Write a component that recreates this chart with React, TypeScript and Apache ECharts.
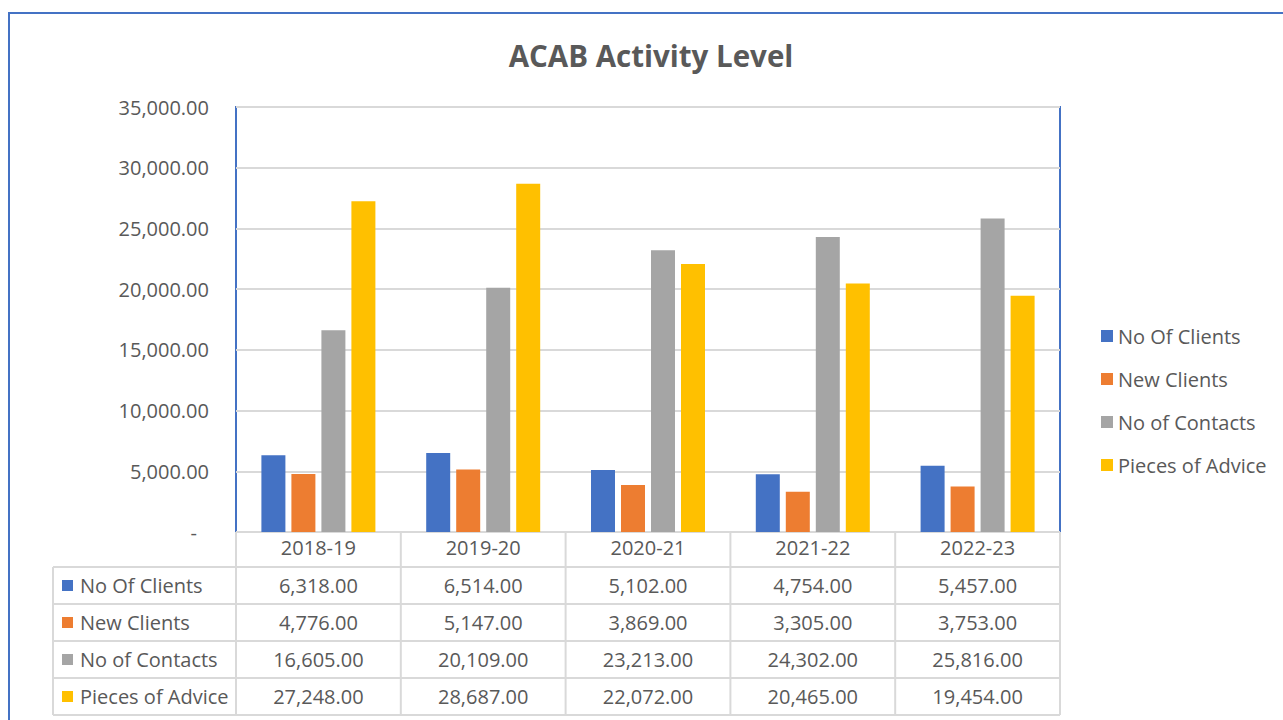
import React, { useEffect, useRef } from "react";
import * as echarts from "echarts";

const categories = ["2018-19", "2019-20", "2020-21", "2021-22", "2022-23"];
const seriesNames = ["No Of Clients", "New Clients", "No of Contacts", "Pieces of Advice"];
const noOfClients = [6318, 6514, 5102, 4754, 5457];
const newClients = [4776, 5147, 3869, 3305, 3753];
const noOfContacts = [16605, 20109, 23213, 24302, 25816];
const piecesOfAdvice = [27248, 28687, 22072, 20465, 19454];
const colors = ["#4472C4", "#ED7D31", "#A5A5A5", "#FFC000"];
const yTicks = { min: 0, max: 35000, interval: 5000 };

const FONT = "Open Sans";
const TXT = "#595959";

const fmt = (v: number) =>
  v.toLocaleString("en-US", { minimumFractionDigits: 2, maximumFractionDigits: 2 });

export default function App() {
  const ref = useRef<HTMLDivElement>(null);
  useEffect(() => {
    if (!ref.current) return;
    const chart = echarts.init(ref.current, null, { renderer: "svg" });
    const allData = [noOfClients, newClients, noOfContacts, piecesOfAdvice];

    const gl = 236, gt = 107, gw = 824, gh = 425;
    const gb = gt + gh;
    const colW = gw / categories.length;
    const rowH = 37;
    const headerBottom = 567;
    const tableLeft = 53;
    const lineColor = "#D9D9D9";

    const graphics: any[] = [];
    graphics.push({
      type: "rect",
      shape: { x: 9, y: 13, width: 1300, height: 760 },
      style: { fill: "none", stroke: "#4472C4", lineWidth: 2 },
      silent: true,
    });
    graphics.push({
      type: "text",
      x: 651,
      y: 55,
      style: {
        text: "ACAB Activity Level",
        fill: TXT,
        font: `bold 29.5px "${FONT}"`,
        align: "center",
        verticalAlign: "middle",
      },
    });
    const tableBottom = headerBottom + rowH * seriesNames.length;
    for (let i = 0; i <= categories.length; i++) {
      const x = gl + i * colW;
      graphics.push({
        type: "line",
        shape: { x1: x, y1: gb, x2: x, y2: tableBottom },
        style: { stroke: lineColor, lineWidth: 2 },
      });
    }
    graphics.push({
      type: "line",
      shape: { x1: tableLeft, y1: headerBottom, x2: tableLeft, y2: tableBottom },
      style: { stroke: lineColor, lineWidth: 2 },
    });
    for (let r = 0; r <= seriesNames.length; r++) {
      const y = headerBottom + r * rowH;
      graphics.push({
        type: "line",
        shape: { x1: tableLeft, y1: y, x2: gl + gw, y2: y },
        style: { stroke: lineColor, lineWidth: 2 },
      });
    }
    seriesNames.forEach((name, r) => {
      const cy = headerBottom + r * rowH + rowH / 2;
      graphics.push({
        type: "rect",
        shape: { x: 62, y: cy - 5.5, width: 11, height: 11 },
        style: { fill: colors[r] },
      });
      graphics.push({
        type: "text",
        x: 80,
        y: cy,
        style: { text: name, fill: TXT, font: `20px "${FONT}"`, verticalAlign: "middle" },
      });
      allData[r].forEach((v, c) => {
        graphics.push({
          type: "text",
          x: gl + c * colW + colW / 2,
          y: cy,
          style: {
            text: fmt(v),
            fill: TXT,
            font: `20px "${FONT}"`,
            align: "center",
            verticalAlign: "middle",
          },
        });
      });
    });

    chart.setOption({
      animation: false,
      textStyle: { fontFamily: FONT },
      grid: {
        left: gl,
        top: gt,
        width: gw,
        height: gh,
        show: true,
        borderColor: "#4472C4",
        borderWidth: 2,
        backgroundColor: "transparent",
      },
      legend: {
        orient: "vertical",
        left: 1096,
        top: 321,
        itemWidth: 12,
        itemHeight: 12,
        itemGap: 23,
        icon: "rect",
        textStyle: { fontSize: 20, color: TXT, fontFamily: FONT },
        data: seriesNames,
      },
      xAxis: {
        type: "category",
        data: categories,
        axisTick: { show: false },
        axisLine: { show: false },
        axisLabel: { color: TXT, fontSize: 20, margin: 5, fontFamily: FONT },
      },
      yAxis: {
        type: "value",
        min: yTicks.min,
        max: yTicks.max,
        interval: yTicks.interval,
        axisLine: { show: false },
        axisTick: { show: false },
        splitLine: { lineStyle: { color: lineColor, width: 2 } },
        axisLabel: {
          color: TXT,
          fontSize: 20,
          margin: 27,
          fontFamily: FONT,
          formatter: (v: number) => (v === 0 ? "{d|-}" : fmt(v)),
          rich: { d: { fontSize: 20, color: TXT, padding: [0, 12, 0, 0], fontFamily: FONT } },
        },
      },
      series: allData.map((d, i) => ({
        name: seriesNames[i],
        type: "bar",
        data: d,
        barWidth: 24,
        barGap: "25%",
        itemStyle: { color: colors[i] },
      })),
      graphic: graphics,
    });
    return () => chart.dispose();
  }, []);
  return (
    <div
      ref={ref}
      style={{ position: "fixed", left: 0, top: 0, width: 1283, height: 720, background: "#fff" }}
    />
  );
}
